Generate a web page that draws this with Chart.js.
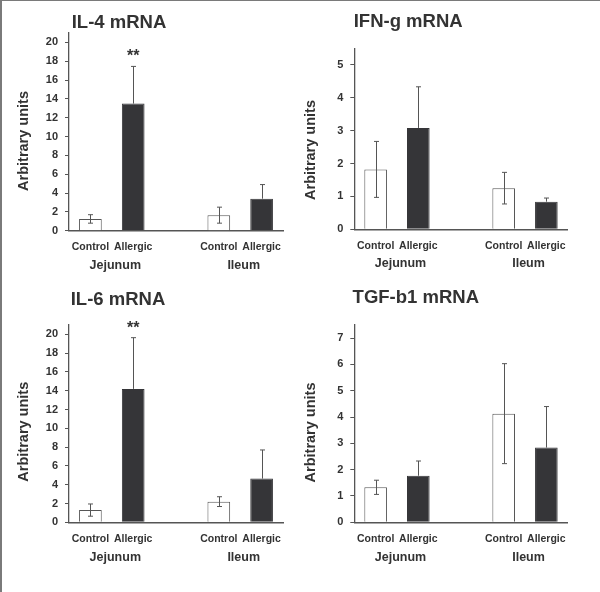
<!DOCTYPE html>
<html><head><meta charset="utf-8">
<script src="https://cdn.jsdelivr.net/npm/chart.js@4/dist/chart.umd.min.js"></script>
<style>
html,body{margin:0;padding:0;background:#fff;}
#page{position:relative;width:600px;height:592px;overflow:hidden;background:#fff;}
#frame{position:absolute;left:0;top:0;width:600px;height:592px;border-left:2px solid #7a7a7a;border-top:1px solid #7a7a7a;box-sizing:border-box;}
.panel{position:absolute;}
</style></head><body>
<div id="page"><div id="frame"></div>
<div class="panel" style="left:0;top:0;width:300px;height:285px"><canvas id="c1"></canvas></div>
<div class="panel" style="left:300px;top:0;width:300px;height:285px"><canvas id="c2"></canvas></div>
<div class="panel" style="left:0;top:285px;width:300px;height:307px"><canvas id="c3"></canvas></div>
<div class="panel" style="left:300px;top:285px;width:300px;height:307px"><canvas id="c4"></canvas></div>
</div>
<script>
// ---- data ----
const categories = ['Control', 'Allergic', '', 'Control', 'Allergic'];
const groups = ['Jejunum', 'Ileum'];
const yTitle = 'Arbitrary units';

const il4Control = [1.25, 1.65];
const il4ControlErr = [0.45, 0.85];
const il4Allergic = [13.5, 3.4];
const il4AllergicErr = [3.95, 1.5];
const il4Marks = ['**', ''];

const ifngControl = [1.82, 1.25];
const ifngControlErr = [0.85, 0.48];
const ifngAllergic = [3.08, 0.84];
const ifngAllergicErr = [1.25, 0.11];
const ifngMarks = ['', ''];

const il6Control = [1.3, 2.2];
const il6ControlErr = [0.65, 0.52];
const il6Allergic = [14.2, 4.65];
const il6AllergicErr = [5.45, 3.05];
const il6Marks = ['**', ''];

const tgfControl = [1.33, 4.13];
const tgfControlErr = [0.27, 1.9];
const tgfAllergic = [1.77, 2.84];
const tgfAllergicErr = [0.56, 1.56];
const tgfMarks = ['', ''];

// ---- style ----
const FONT = "'Liberation Sans', Arial, Helvetica, sans-serif";
const TXT = '#333333';
const AXIS = '#555555';
const DARK = '#353538';

function series(c, a) { return [c[0], a[0], null, c[1], a[1]]; }

const annot = {
  id: 'annot',
  afterDatasetsDraw(chart, args, o) {
    const ctx = chart.ctx;
    const y = chart.scales.y;
    const meta = chart.getDatasetMeta(0);
    const vals = chart.data.datasets[0].data;
    ctx.save();
    ctx.strokeStyle = AXIS;
    ctx.lineWidth = 1;
    meta.data.forEach((bar, i) => {
      const v = vals[i];
      if (v === null || v === undefined) return;
      const e = o.errs[i];
      const bx = Math.round(bar.x) + 0.5;
      const yt = y.getPixelForValue(v + e);
      const isControl = (i === 0 || i === 3);
      const yb = isControl ? y.getPixelForValue(v - e) : y.getPixelForValue(v);
      ctx.beginPath();
      ctx.moveTo(bx, yt); ctx.lineTo(bx, yb);
      ctx.moveTo(bx - 2.5, yt); ctx.lineTo(bx + 2.5, yt);
      if (isControl) { ctx.moveTo(bx - 2.5, yb); ctx.lineTo(bx + 2.5, yb); }
      ctx.stroke();
      const m = o.marks[i];
      if (m) {
        ctx.fillStyle = TXT;
        ctx.font = 'bold 16px ' + FONT;
        ctx.textAlign = 'center';
        ctx.textBaseline = 'alphabetic';
        ctx.fillText(m, bar.x, yt - 5);
      }
    });
    ctx.restore();
  },
  afterDraw(chart, args, o) {
    const ctx = chart.ctx;
    const ca = chart.chartArea;
    const x = chart.scales.x;
    ctx.save();
    ctx.fillStyle = TXT;
    ctx.font = 'bold 18.5px ' + FONT;
    ctx.textAlign = 'left';
    ctx.textBaseline = 'middle';
    ctx.fillText(o.title, o.titleX, o.titleY);
    ctx.save();
    ctx.translate(o.yTitleX, o.yTitleY);
    ctx.rotate(-Math.PI / 2);
    ctx.font = 'bold 14.5px ' + FONT;
    ctx.textAlign = 'center';
    ctx.textBaseline = 'middle';
    ctx.fillText(yTitle, 0, 0);
    ctx.restore();
    ctx.font = 'bold 12.5px ' + FONT;
    ctx.textAlign = 'center';
    ctx.textBaseline = 'middle';
    const g1 = (x.getPixelForValue(0) + x.getPixelForValue(1)) / 2 + 3.5;
    const g2 = (x.getPixelForValue(3) + x.getPixelForValue(4)) / 2 + 3.5;
    ctx.fillText(groups[0], g1, ca.bottom + o.groupDy);
    ctx.fillText(groups[1], g2, ca.bottom + o.groupDy);
    ctx.restore();
  }
};

function makeChart(id, cfg) {
  const H = cfg.h;
  const values = series(cfg.c, cfg.a);
  const errs = series(cfg.ce, cfg.ae);
  const marks = ['', cfg.marks[0], '', '', cfg.marks[1]];
  return new Chart(document.getElementById(id), {
    type: 'bar',
    data: {
      labels: categories,
      datasets: [{
        data: values,
        backgroundColor: ['#ffffff', DARK, '#ffffff', '#ffffff', DARK],
        borderColor: [AXIS, DARK, AXIS, AXIS, DARK],
        borderWidth: 1,
        barPercentage: 0.53,
        categoryPercentage: 1.0
      }]
    },
    options: {
      responsive: true,
      maintainAspectRatio: false,
      animation: false,
      devicePixelRatio: 1,
      layout: { padding: { top: cfg.top, right: cfg.right, left: 0, bottom: 0 } },
      plugins: {
        legend: { display: false },
        tooltip: { enabled: false },
        annot: {
          errs: errs, marks: marks, title: cfg.title,
          titleX: cfg.titleX, titleY: cfg.titleY,
          yTitleX: cfg.yTitleX, yTitleY: cfg.yTitleY, groupDy: cfg.groupDy
        }
      },
      scales: {
        x: {
          grid: { display: false },
          border: { display: true, color: AXIS, width: 1.5 },
          ticks: { color: TXT, font: { family: FONT, size: 10.5, weight: 'bold' }, padding: 2.5, maxRotation: 0, autoSkip: false },
          afterFit(s) { s.height = H - cfg.bottom; }
        },
        y: {
          min: 0, max: cfg.ymax,
          grid: { display: true, drawOnChartArea: false, drawTicks: true, tickLength: 4, color: AXIS },
          border: { display: true, color: AXIS, width: 1.3 },
          ticks: { stepSize: cfg.step, includeBounds: false, color: TXT, padding: 7, font: { family: FONT, size: 11, weight: 'bold' } },
          afterFit(s) { s.width = cfg.left; }
        }
      }
    },
    plugins: [annot]
  });
}

makeChart('c1', { h: 285, left: 69, right: 17, top: 33, bottom: 230.7, ymax: 21, step: 2,
  c: il4Control, ce: il4ControlErr, a: il4Allergic, ae: il4AllergicErr, marks: il4Marks, groupDy: 35,
  title: 'IL-4 mRNA', titleX: 71.7, titleY: 22.7, yTitleX: 24, yTitleY: 141 });
makeChart('c2', { h: 285, left: 54.3, right: 32.3, top: 48.3, bottom: 229.3, ymax: 5.5, step: 1,
  c: ifngControl, ce: ifngControlErr, a: ifngAllergic, ae: ifngAllergicErr, marks: ifngMarks, groupDy: 34,
  title: 'IFN-g mRNA', titleX: 53.7, titleY: 21.7, yTitleX: 11, yTitleY: 150 });
makeChart('c3', { h: 307, left: 69, right: 17, top: 40, bottom: 237.3, ymax: 21, step: 2,
  c: il6Control, ce: il6ControlErr, a: il6Allergic, ae: il6AllergicErr, marks: il6Marks, groupDy: 35.5,
  title: 'IL-6 mRNA', titleX: 70.7, titleY: 14.5, yTitleX: 24, yTitleY: 146.7 });
makeChart('c4', { h: 307, left: 54.3, right: 32.3, top: 40, bottom: 237.3, ymax: 7.5, step: 1,
  c: tgfControl, ce: tgfControlErr, a: tgfAllergic, ae: tgfAllergicErr, marks: tgfMarks, groupDy: 35.5,
  title: 'TGF-b1 mRNA', titleX: 52.6, titleY: 13.3, yTitleX: 11, yTitleY: 147.5 });
</script>
</body></html>
